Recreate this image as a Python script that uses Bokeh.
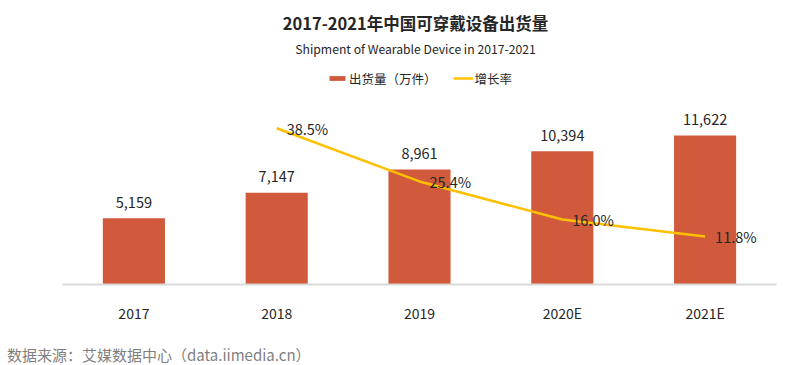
from bokeh.plotting import figure
from bokeh.models import ColumnDataSource, Range1d, FactorRange, Label, Legend, LegendItem, Div
from bokeh.layouts import column
from bokeh.core.properties import value
from bokeh.embed import file_html
from bokeh.resources import INLINE

years = ["2017", "2018", "2019", "2020E", "2021E"]
shipments = [5159, 7147, 8961, 10394, 11622]
shipment_labels = ["5,159", "7,147", "8,961", "10,394", "11,622"]
growth_years = ["2018", "2019", "2020E", "2021E"]
growth = [0.385, 0.254, 0.160, 0.118]
growth_labels = ["38.5%", "25.4%", "16.0%", "11.8%"]

FONT = "Noto Sans CJK SC"
BAR_COLOR = "#D05A3B"
LINE_COLOR = "#FFC000"
TXT = "#262626"

bar_src = ColumnDataSource(dict(x=years, y=shipments, lab=shipment_labels))
line_src = ColumnDataSource(dict(x=growth_years, y=growth, lab=growth_labels))


def bare(fig):
    fig.outline_line_color = None
    fig.xgrid.grid_line_color = None
    fig.ygrid.grid_line_color = None
    fig.background_fill_color = "white"
    fig.border_fill_color = "white"


# ---- header: title, subtitle, legend ----
head = figure(width=792, height=95, x_range=FactorRange(*years), y_range=Range1d(0, 14110),
              output_backend="svg", toolbar_location=None, x_axis_location=None, y_axis_location=None,
              min_border_left=62, min_border_right=16, min_border_top=0, min_border_bottom=0)
head.extra_y_ranges = {"rate": Range1d(0, 0.446)}
bare(head)
head.add_layout(Label(x=353, y=72.5, x_units="screen", y_units="screen",
                      text="2017-2021年中国可穿戴设备出货量",
                      text_align="center", text_baseline="middle", text_font=FONT,
                      text_font_size="16.5px", text_font_style="bold", text_color=TXT))
head.add_layout(Label(x=353, y=47, x_units="screen", y_units="screen",
                      text="Shipment of Wearable Device in 2017-2021",
                      text_align="center", text_baseline="middle", text_font=FONT,
                      text_font_size="12.2px", text_color=TXT))
leg_bar = head.vbar(x="x", top="y", width=0.435, source=bar_src, fill_color=BAR_COLOR,
                    line_color=None, visible=False)
leg_line = head.line(x="x", y="y", source=line_src, y_range_name="rate", line_color=LINE_COLOR,
                     line_width=2.5, visible=False)
legend = Legend(items=[LegendItem(label="出货量（万件）", renderers=[leg_bar]),
                       LegendItem(label="增长率", renderers=[leg_line])],
                orientation="horizontal", location=(265, 7.5),
                glyph_width=20, glyph_height=6, label_standoff=2, spacing=16, padding=0, margin=0,
                border_line_color=None, background_fill_alpha=0, inactive_fill_alpha=0,
                label_text_font=FONT, label_text_font_size="12.5px", label_text_color=TXT)
head.add_layout(legend, "center")

# ---- main chart ----
p = figure(width=792, height=230, x_range=FactorRange(*years), y_range=Range1d(0, 14110),
           output_backend="svg", toolbar_location=None, y_axis_location=None,
           min_border_left=62, min_border_right=16, min_border_top=8, min_border_bottom=36)
p.extra_y_ranges = {"rate": Range1d(0, 0.446)}
bare(p)

p.vbar(x="x", top="y", width=0.435, source=bar_src, fill_color=BAR_COLOR, line_color=None)
p.text(x="x", y="y", text="lab", source=bar_src, text_align="center", text_baseline="middle",
       y_offset=-16, text_font=value(FONT), text_font_size="14.5px", text_color=TXT)

p.line(x="x", y="y", source=line_src, y_range_name="rate", line_color=LINE_COLOR, line_width=2.5)
p.text(x="x", y="y", text="lab", source=line_src, y_range_name="rate", text_align="left",
       text_baseline="middle", x_offset=10, text_font=value(FONT), text_font_size="14.5px",
       text_color=TXT)

ax = p.xaxis[0]
ax.axis_line_color = "#D9D9D9"
ax.axis_line_width = 2
ax.major_tick_line_color = None
ax.minor_tick_line_color = None
ax.major_label_text_font = FONT
ax.major_label_text_font_size = "14px"
ax.major_label_text_color = TXT
ax.major_label_standoff = 12

# ---- footer: source note ----
foot = Div(text="数据来源：艾媒数据中心（data.iimedia.cn）", width=780, height=20, margin=(20, 0, 0, 7),
           styles={"font-family": FONT, "font-size": "15px", "color": "#7F7F7F",
                   "line-height": "20px", "white-space": "nowrap"})

layout = column(head, p, foot, spacing=0)
open("out.html", "w").write(file_html(layout, INLINE))
